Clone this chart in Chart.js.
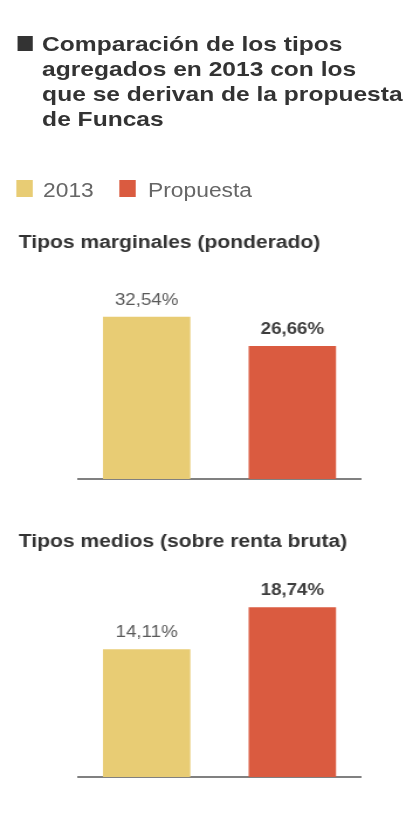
<!DOCTYPE html>
<html>
<head>
<meta charset="utf-8">
<script src="https://cdn.jsdelivr.net/npm/chart.js@4/dist/chart.umd.min.js"></script>
<style>
  html, body { margin: 0; padding: 0; background: #fff; overflow: hidden; }
  /* la lamina original esta algo estirada en horizontal */
  #wrap { position: relative; width: 354px; height: 826px; transform: scaleX(1.17); transform-origin: 0 0;
          font-family: "Liberation Sans", Arial, sans-serif; }
  #titulo { position: absolute; left: 36px; top: 31px; font-size: 21px; line-height: 25px; font-weight: bold; color: #333; }
  #cuadro { position: absolute; left: 14.5px; top: 36px; width: 13px; height: 15px; background: #333; }
  #leyenda { position: absolute; left: 0; top: 180px; width: 354px; height: 20px; font-size: 19.5px; line-height: 20px; color: #666; }
  #leyenda .caja { position: absolute; top: 0; width: 14.5px; height: 17px; }
  #leyenda .txt { position: absolute; top: 0; white-space: nowrap; }
  .grafico { position: absolute; left: 0; width: 354px; height: 270px; }
</style>
</head>
<body>
<div id="wrap">
  <div id="cuadro"></div>
  <div id="titulo">Comparación de los tipos<br>agregados en 2013 con los<br>que se derivan de la propuesta<br>de Funcas</div>
  <div id="leyenda"></div>
  <div class="grafico" style="top:222px"><canvas id="grafico1"></canvas></div>
  <div class="grafico" style="top:521px"><canvas id="grafico2"></canvas></div>
</div>

<script>
//Datos
const categorias = ["Tipos marginales (ponderado)", "Tipos medios (sobre renta bruta)"]
const series = ["2013", "Propuesta"]
const valores2013 = [32.54, 14.11]
const valoresPropuesta = [26.66, 18.74]
const ejeMax = [42, 23]

//Colores
const colores = ["#E8CC74", "#DA5B40"]

Chart.defaults.font.family = '"Liberation Sans", Arial, sans-serif'

//Formato 32,54%
function formatoPct(v) {
  return v.toFixed(2).replace(".", ",") + "%"
}

//Leyenda en html a partir de las series
let leyenda = document.getElementById("leyenda")
let posCaja = [13.7, 101.7]
let posTxt = [36.8, 126.5]
series.forEach((nombre, i) => {
  let caja = document.createElement("div")
  caja.className = "caja"
  caja.style.left = posCaja[i] + "px"
  caja.style.background = colores[i]
  leyenda.appendChild(caja)
  let txt = document.createElement("div")
  txt.className = "txt"
  txt.style.left = posTxt[i] + "px"
  txt.textContent = nombre
  leyenda.appendChild(txt)
})

//Plugin para pintar el valor encima de cada barra
const etiquetas = {
  id: "etiquetas",
  afterDatasetsDraw(chart) {
    let ctx = chart.ctx
    chart.data.datasets.forEach((ds, di) => {
      chart.getDatasetMeta(di).data.forEach((barra, j) => {
        ctx.save()
        ctx.font = (di === 1 ? "bold " : "") + "16px " + Chart.defaults.font.family
        ctx.fillStyle = di === 1 ? "#3d3d3d" : "#5a5a5a"
        ctx.textAlign = "center"
        ctx.textBaseline = "alphabetic"
        ctx.fillText(formatoPct(ds.data[j]), barra.x, barra.y - 12)
        ctx.restore()
      })
    })
  }
}

function crearGrafico(id, i) {
  let ctx = document.getElementById(id).getContext("2d")
  return new Chart(ctx, {
    type: "bar",
    data: {
      labels: [categorias[i]],
      datasets: [
        { label: series[0], data: [valores2013[i]], backgroundColor: colores[0] },
        { label: series[1], data: [valoresPropuesta[i]], backgroundColor: colores[1] }
      ]
    },
    options: {
      responsive: true,
      maintainAspectRatio: false,
      animation: false,
      categoryPercentage: 1.03,
      barPercentage: 0.6,
      layout: { padding: { left: 16, right: 45.5, top: 0, bottom: i === 0 ? 13 : 14 } },
      plugins: {
        legend: { display: false },
        tooltip: { enabled: false },
        title: {
          display: true,
          text: categorias[i],
          align: "start",
          color: "#333",
          font: { size: 18, weight: "bold" },
          padding: { top: 10, bottom: 16 }
        }
      },
      scales: {
        x: {
          grid: { display: false, drawTicks: false, tickLength: 0 },
          ticks: { display: false },
          border: { display: true, color: "#808080", width: 2 }
        },
        y: {
          min: 0,
          max: ejeMax[i],
          grid: { display: false, drawTicks: false },
          ticks: { display: false },
          border: { display: false },
          afterFit: function(scale) { scale.width = 50.7 }
        }
      }
    },
    plugins: [etiquetas]
  })
}

crearGrafico("grafico1", 0)
crearGrafico("grafico2", 1)
</script>
</body>
</html>
